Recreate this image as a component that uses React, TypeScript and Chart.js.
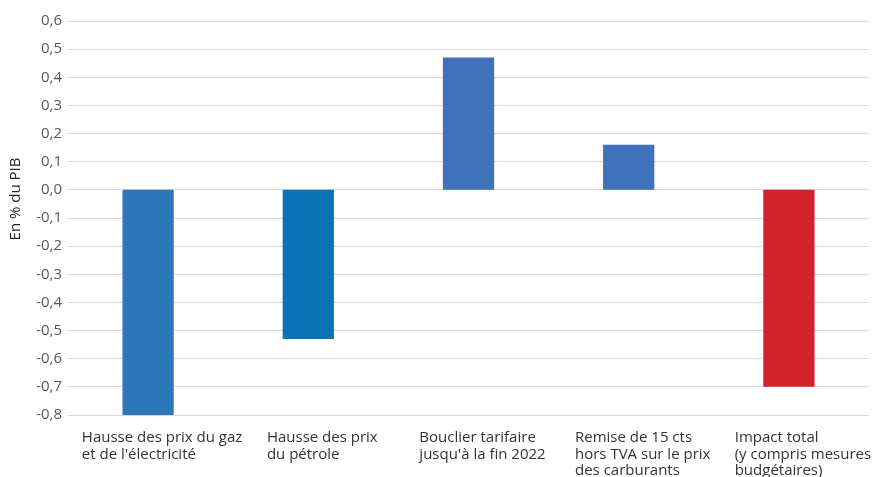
import React, { useEffect, useRef } from "react";
import { Chart, registerables } from "chart.js";

Chart.register(...registerables);

const categories: string[][] = [
  ["Hausse des prix du gaz", "et de l'électricité"],
  ["Hausse des prix", "du pétrole"],
  ["Bouclier tarifaire", "jusqu'à la fin 2022"],
  ["Remise de 15 cts", "hors TVA sur le prix", "des carburants"],
  ["Impact total", "(y compris mesures", "budgétaires)"],
];
const values: number[] = [-0.8, -0.53, 0.47, 0.16, -0.7];
const barColors: string[] = ["#2B77B9", "#0874B6", "#3F72BB", "#3F72BB", "#D2232A"];
const yMin = -0.8;
const yMax = 0.6;
const yStep = 0.1;
const yTitle = "En % du PIB";

const FONT = "'Open Sans', 'DejaVu Sans', sans-serif";

const xLabelPlugin = {
  id: "xLabelPlugin",
  afterDraw(chart: any) {
    const { ctx, chartArea } = chart;
    const xs = chart.scales.x;
    ctx.save();
    ctx.font = `15px ${FONT}`;
    ctx.fillStyle = "#333333";
    ctx.textAlign = "left";
    ctx.textBaseline = "middle";
    categories.forEach((lines, i) => {
      const cx = xs.getPixelForValue(i);
      const w = Math.max(...lines.map((l) => ctx.measureText(l).width));
      const left = cx - w / 2 + 14;
      lines.forEach((l, j) => {
        ctx.fillText(l, left, chartArea.bottom + 23 + j * 16.5);
      });
    });
    // y axis title
    ctx.translate(16, (chartArea.top + chartArea.bottom) / 2 - 19);
    ctx.rotate(-Math.PI / 2);
    ctx.textAlign = "center";
    ctx.fillStyle = "#262626";
    ctx.fillText(yTitle, 0, 0);
    ctx.restore();
  },
};

export default function App() {
  const ref = useRef<HTMLCanvasElement>(null);
  useEffect(() => {
    if (!ref.current) return;
    const chart = new Chart(ref.current, {
      type: "bar",
      data: {
        labels: categories.map((c) => c.join(" ")),
        datasets: [
          {
            data: values,
            backgroundColor: barColors,
            barPercentage: 0.32,
            categoryPercentage: 1,
          },
        ],
      },
      options: {
        animation: false,
        responsive: false,
        maintainAspectRatio: false,
        layout: { padding: { top: 21, right: 10, left: 0, bottom: 0 } },
        plugins: { legend: { display: false }, tooltip: { enabled: false } },
        scales: {
          x: {
            grid: { display: false },
            border: { display: false },
            ticks: { display: false },
            afterFit: (s: any) => {
              s.height = 62;
            },
          },
          y: {
            min: yMin,
            max: yMax,
            grid: { color: "#d9d9d9", lineWidth: 1, drawTicks: false },
            border: { display: false },
            ticks: {
              stepSize: yStep,
              padding: 6,
              color: "#595959",
              font: { family: FONT, size: 15 },
              callback: (v: any) => {
                const n = Math.abs(v) < 1e-9 ? 0 : Number(v);
                return n.toFixed(1).replace(".", ",");
              },
            },
            afterFit: (s: any) => {
              s.width = 68;
            },
          },
        },
      },
      plugins: [xLabelPlugin],
    });
    return () => chart.destroy();
  }, []);
  return (
    <div style={{ position: "absolute", left: 0, top: 0, width: 879, height: 477, background: "#fff" }}>
      <canvas ref={ref} width={879} height={477} />
    </div>
  );
}
